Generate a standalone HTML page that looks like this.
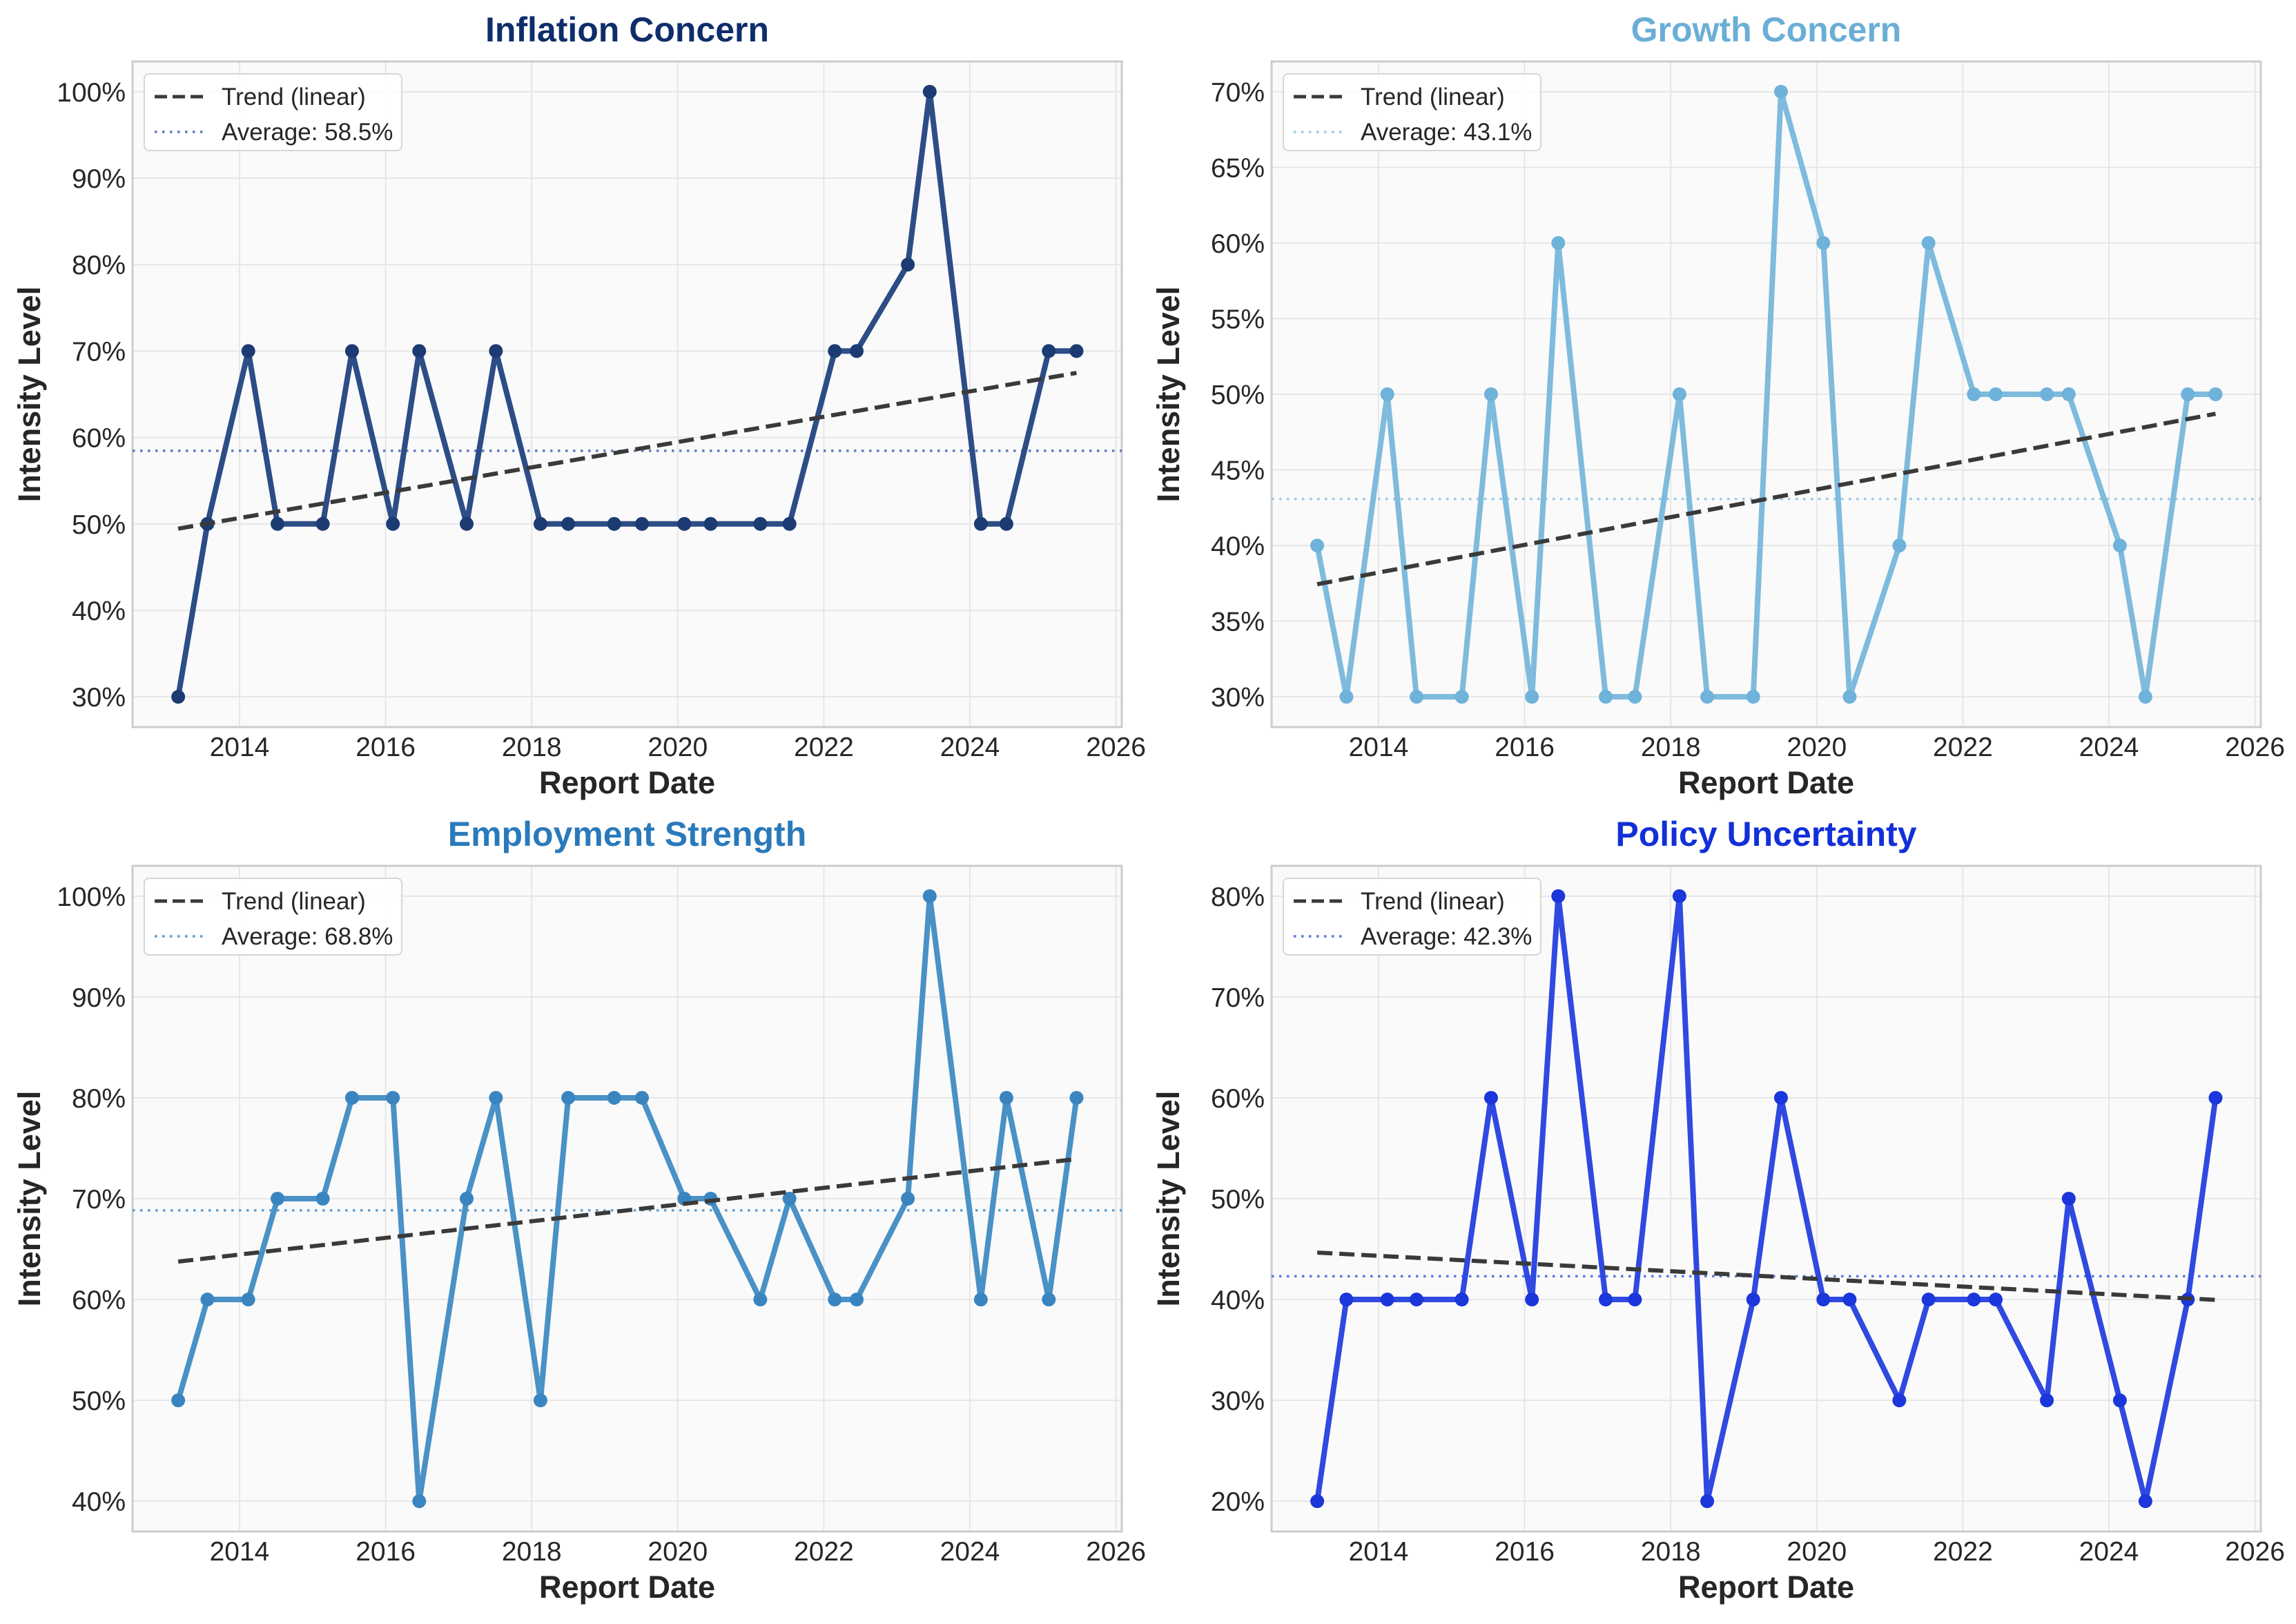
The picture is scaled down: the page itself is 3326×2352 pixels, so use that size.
<!DOCTYPE html>
<html><head><meta charset="utf-8"><style>
html,body{margin:0;padding:0;background:#fff;}
svg{display:block;font-family:"Liberation Sans",Arial,sans-serif;}
</style></head><body>
<svg id="fig" width="3326" height="2352" viewBox="0 0 3326 2352" xmlns="http://www.w3.org/2000/svg"></svg>
<script>
const dates = [2013.16,2013.56,2014.12,2014.52,2015.14,2015.54,2016.10,2016.46,2017.11,2017.51,2018.12,2018.50,2019.13,2019.51,2020.09,2020.45,2021.13,2021.53,2022.15,2022.45,2023.15,2023.45,2024.15,2024.50,2025.08,2025.46];
const inflationValues = [30,50,70,50,50,70,50,70,50,70,50,50,50,50,50,50,50,50,70,70,80,100,50,50,70,70];
const growthValues = [40,30,50,30,30,50,30,60,30,30,50,30,30,70,60,30,40,60,50,50,50,50,40,30,50,50];
const employmentValues = [50,60,60,70,70,80,80,40,70,80,50,80,80,80,70,70,60,70,60,60,70,100,60,80,60,80];
const policyValues = [20,40,40,40,40,60,40,80,40,40,80,20,40,60,40,40,30,40,40,40,30,50,30,20,40,60];
const xTicks = [2014,2016,2018,2020,2022,2024,2026];
const yTicksInflation = [30,40,50,60,70,80,90,100];
const yTicksGrowth = [30,35,40,45,50,55,60,65,70];
const yTicksEmployment = [40,50,60,70,80,90,100];
const yTicksPolicy = [20,30,40,50,60,70,80];

const NS="http://www.w3.org/2000/svg";
const svg=document.getElementById('fig');
function mk(tag,attrs,parent){const e=document.createElementNS(NS,tag);for(const k in attrs)e.setAttribute(k,attrs[k]);(parent||svg).appendChild(e);return e;}

const panels=[
 {key:'inflation',title:'Inflation Concern',titleColor:'#0f2d6b',line:'#2c4d86',marker:'#1d3b73',avg:'#5b7bbf',vals:inflationValues,ticks:yTicksInflation,left:192,top:89},
 {key:'growth',title:'Growth Concern',titleColor:'#6aaed6',line:'#7ebbdd',marker:'#6fb2da',avg:'#9ccbe6',vals:growthValues,ticks:yTicksGrowth,left:1842,top:89},
 {key:'employment',title:'Employment Strength',titleColor:'#2a7abb',line:'#4a91c6',marker:'#3a85c0',avg:'#5f9fd2',vals:employmentValues,ticks:yTicksEmployment,left:192,top:1254},
 {key:'policy',title:'Policy Uncertainty',titleColor:'#1230d8',line:'#3049e0',marker:'#1b36da',avg:'#5a78e0',vals:policyValues,ticks:yTicksPolicy,left:1842,top:1254}
];
const W=1433,H=964;
const xMin=2012.535, xPerYear=105.8;

panels.forEach(p=>{
 const g=mk('g',{});
 
 
 const L=p.left,T=p.top;
 const tmin=p.ticks[0],tmax=p.ticks[p.ticks.length-1],pad=(tmax-tmin)*0.05;
 const y0=tmin-pad,y1=tmax+pad;
 const X=d=>L+(d-xMin)*xPerYear;
 const Y=v=>T+H-(v-y0)/(y1-y0)*H;
 const bg=mk('rect',{x:L,y:T,width:W,height:H,fill:'#fafafa'},g);
 
 
 xTicks.forEach(t=>{
  const x=X(t);
  const gl=mk('line',{x1:x,x2:x,y1:T,y2:T+H,stroke:'#e6e6e6','stroke-width':2},g);
  
  
  const tl=mk('text',{x:x,y:T+H+42,'font-size':39,fill:'#262626','text-anchor':'middle'},g);
  tl.textContent=t;
  
  
 });
 p.ticks.forEach(t=>{
  const y=Y(t);
  const gl=mk('line',{x1:L,x2:L+W,y1:y,y2:y,stroke:'#e6e6e6','stroke-width':2},g);
  
  
  const tl=mk('text',{x:L-10,y:y+14,'font-size':39,fill:'#262626','text-anchor':'end'},g);
  tl.textContent=t+'%';
  
  
 });
 const fr=mk('rect',{x:L,y:T,width:W,height:H,fill:'none',stroke:'#cccccc','stroke-width':3},g);
 
 
 // stats
 const n=p.vals.length;
 const mean=p.vals.reduce((a,b)=>a+b,0)/n;
 const mx=dates.reduce((a,b)=>a+b,0)/n;
 let sxy=0,sxx=0;
 for(let i=0;i<n;i++){sxy+=(dates[i]-mx)*(p.vals[i]-mean);sxx+=(dates[i]-mx)**2;}
 const slope=sxy/sxx,icpt=mean-slope*mx;
 const av=mk('line',{x1:L,x2:L+W,y1:Y(mean),y2:Y(mean),stroke:p.avg,'stroke-width':3.5,'stroke-dasharray':'3.5 7.5'},g);
 
 
 const series=mk('polyline',{points:dates.map((d,i)=>X(d)+','+Y(p.vals[i])).join(' '),fill:'none',stroke:p.line,'stroke-width':8,'stroke-linejoin':'round'},g);
 
 
 dates.forEach((d,i)=>{
  const c=mk('circle',{cx:X(d),cy:Y(p.vals[i]),r:10,fill:p.marker},g);
  
  
 });
 const tr=mk('polyline',{points:dates.map(d=>X(d)+','+Y(icpt+slope*d)).join(' '),fill:'none',stroke:'#3a3a3a','stroke-width':6,'stroke-dasharray':'22 10'},g);
 
 
 // legend
 const lg=mk('g',{},g);
 
 
 mk('rect',{x:L+17,y:T+18,width:373,height:111,rx:7,fill:'#ffffff','fill-opacity':0.85,stroke:'#d6d6d6','stroke-width':2},lg);
 const h1=mk('line',{x1:L+32,x2:L+103,y1:T+51,y2:T+51,stroke:'#3a3a3a','stroke-width':5,'stroke-dasharray':'18 8'},lg);
 
 
 const t1=mk('text',{x:L+129,y:T+63,'font-size':35,fill:'#262626'},lg);
 t1.textContent='Trend (linear)';
 
 
 const h2=mk('line',{x1:L+32,x2:L+103,y1:T+102,y2:T+102,stroke:p.avg,'stroke-width':3.5,'stroke-dasharray':'3.5 7.5'},lg);
 
 
 const t2=mk('text',{x:L+129,y:T+114,'font-size':35,fill:'#262626'},lg);
 t2.textContent='Average: '+mean.toFixed(1)+'%';
 
 
 // titles
 const tt=mk('text',{x:L+W/2,y:T-29,'font-size':50,'font-weight':'bold',fill:p.titleColor,'text-anchor':'middle'},g);
 tt.textContent=p.title;
 
 
 const xl=mk('text',{x:L+W/2,y:T+H+96,'font-size':45,'font-weight':'bold',fill:'#262626','text-anchor':'middle'},g);
 xl.textContent='Report Date';
 
 
 const yx=L-134,yy=T+H/2;
 const yl=mk('text',{x:yx,y:yy,'font-size':45,'font-weight':'bold',fill:'#262626','text-anchor':'middle',transform:'rotate(-90 '+yx+' '+yy+')'},g);
 yl.textContent='Intensity Level';
 
 
});
</script>
</body></html>
